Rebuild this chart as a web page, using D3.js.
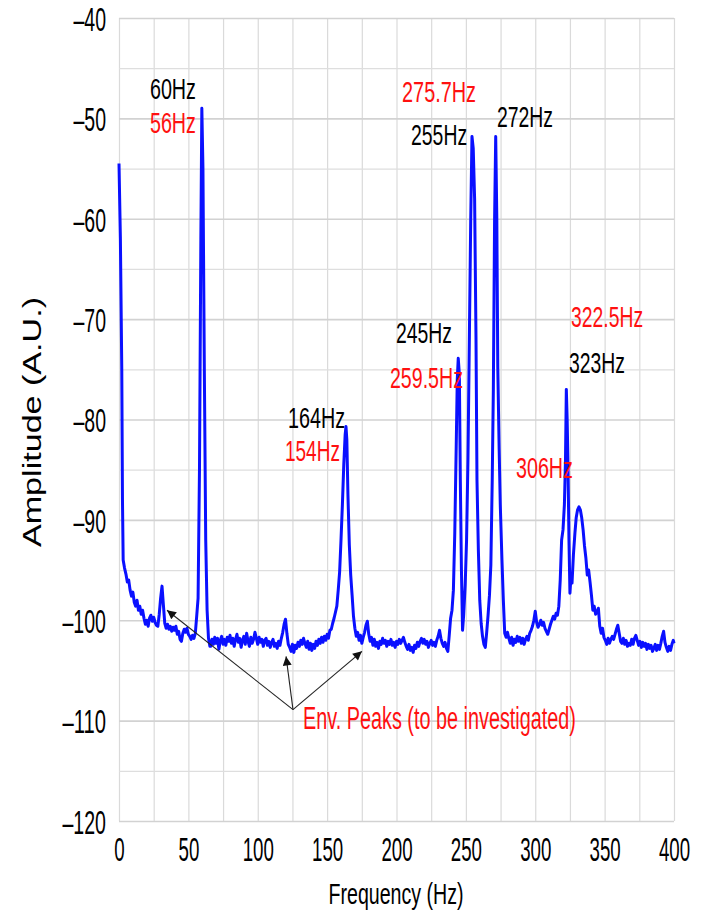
<!DOCTYPE html>
<html>
<head>
<meta charset="utf-8">
<script src="https://cdn.jsdelivr.net/npm/d3@7"></script>
<style>
  html, body { margin: 0; padding: 0; background: #fff; }
  svg { display: block; }
  text { font-family: "Liberation Sans", Arial, Helvetica, sans-serif; }
</style>
</head>
<body>
<div id="chart"></div>
<script>
// ---------------- data ----------------
const xTicks = [0, 50, 100, 150, 200, 250, 300, 350, 400];
const yTicks = [-40, -50, -60, -70, -80, -90, -100, -110, -120];
const xGrid = d3.range(0, 401, 25);
const yGrid = d3.range(-120, -39, 5);

// [frequency Hz, amplitude]
const spectrum = [
  [0,-54.5],[1,-62],[2,-75],[2.5,-88],[3,-94.0],[4,-94.8],[5,-95.4],[6,-96.2],[7,-96.0],[8,-97.0],
  [9,-97.6],[10,-97.2],[11,-98.2],[12,-98.6],[13,-98.0],[14,-99.0],[15,-98.6],[16,-99.4],[17,-99.0],[18,-99.8],
  [19,-100.4],[20,-100.0],[21,-100.6],[22,-99.8],[23,-99.5],[24,-100.1],[25,-99.7],[26,-100.2],[27,-100.5],[28,-100.6],
  [29,-99.4],[30,-97.8],[31,-96.6],[32,-98.5],[33,-100.3],[34,-100.8],[35,-100.4],[36,-100.9],[37,-100.6],[38,-101.1],
  [39,-100.7],[40,-101.0],[41,-100.6],[42,-101.4],[43,-101.1],[44,-101.9],[45,-102.1],[46,-101.3],[47,-100.9],[48,-101.2],
  [49,-100.8],[50,-101.4],[51,-101.6],[52,-101.9],[53,-101.5],[54,-101.8],[55,-101.3],[56,-99.6],[57,-97.8],[58,-85],
  [59,-62],[59.7,-49.0],[60.5,-55],[61.5,-75],[62.5,-92],[63.5,-99],[64.5,-101.8],[65.5,-102.6],
  [66,-102.6],[67,-101.9],[68,-102.4],[69,-101.7],[70,-102.3],[71,-101.8],[72,-102.9],[73,-102.0],[74,-101.6],[75,-102.4],
  [76,-101.9],[77,-102.5],[78,-101.7],[79,-102.1],[80,-101.5],[81,-102.3],[82,-101.8],[83,-102.6],[84,-101.9],[85,-101.4],
  [86,-102.2],[87,-101.8],[88,-102.7],[89,-102.0],[90,-101.6],[91,-102.4],[92,-101.3],[93,-102.1],[94,-102.6],[95,-101.7],
  [96,-102.3],[97,-101.9],[98,-101.2],[99,-101.8],[100,-102.4],[101,-101.7],[102,-102.2],[103,-101.9],[104,-102.6],[105,-102.0],
  [106,-101.8],[107,-102.5],[108,-102.1],[109,-102.7],[110,-102.2],[111,-101.9],[112,-102.6],[113,-102.3],[114,-102.8],[115,-102.1],
  [116,-102.5],[117,-101.8],[118,-101.2],[119,-100.4],[120,-99.9],[121,-101.3],[122,-102.4],[123,-102.7],[124,-103.1],[125,-102.4],
  [126,-103.2],[127,-102.5],[128,-102.8],[129,-102.2],[130,-102.6],[131,-102.0],[132,-102.4],[133,-101.8],[134,-102.3],[135,-102.7],
  [136,-102.1],[137,-102.9],[138,-102.3],[139,-103.0],[140,-102.4],[141,-102.8],[142,-102.1],[143,-102.5],[144,-101.9],[145,-102.3],
  [146,-101.7],[147,-102.2],[148,-101.6],[149,-102.0],[150,-101.4],[151,-101.8],[152,-101.0],[153,-100.9],[154,-100.3],[155,-99.8],
  [156,-99.2],[157,-98.6],[158,-97.0],[159,-95.2],[160,-92.0],[161,-88.5],[162,-84.5],[163,-81.5],[163.6,-80.7],[164.2,-82.0],
  [165,-87.5],[166,-92.5],[167,-95.5],[168,-97.5],[169,-99.6],[170,-100.8],[171,-101.6],[172,-101.2],[173,-102.0],[174,-101.5],
  [175,-102.3],[176,-101.7],[177,-101.2],[178,-100.5],[179,-100.1],[180,-101.4],[181,-102.1],[182,-101.7],[183,-102.5],[184,-101.9],
  [185,-102.6],[186,-102.2],[187,-102.8],[188,-102.1],[189,-102.4],[190,-101.8],[191,-102.3],[192,-102.0],[193,-102.6],[194,-102.1],
  [195,-102.4],[196,-101.9],[197,-102.5],[198,-102.2],[199,-102.7],[200,-102.1],[201,-102.4],[202,-101.9],[203,-102.3],[204,-102.0],
  [205,-101.7],[206,-102.2],[207,-102.6],[208,-102.9],[209,-102.4],[210,-103.0],[211,-102.7],[212,-103.2],[213,-102.5],[214,-102.8],
  [215,-102.2],[216,-102.6],[217,-102.1],[218,-101.8],[219,-102.3],[220,-101.9],[221,-102.4],[222,-102.1],[223,-102.7],[224,-102.3],
  [225,-102.0],[226,-102.5],[227,-102.2],[228,-102.6],[229,-102.0],[230,-101.6],[231,-101.0],[232,-101.8],[233,-102.3],[234,-102.6],
  [235,-102.2],[236,-102.8],[237,-103.1],[238,-101.5],[239,-99.8],[240,-99.0],[241,-97.0],[242,-91.3],[243,-83],[243.8,-76],
  [244.5,-73.9],[245.3,-75.5],[246,-86],[246.8,-95],[247.6,-101.0],[248.4,-99.5],[249.5,-96.5],[250.5,-92],[251.5,-84],[252.5,-72],
  [253.5,-60],[254.4,-51.8],[255.3,-53],[256.3,-58],[257.3,-72],[258,-86],[259,-93],[260,-98],[261,-100.3],[262,-101.6],
  [263,-102.4],[264,-102.7],[265,-101.2],[266,-99.5],[267,-97.5],[268,-94.5],[269,-86],[269.8,-77],[270.7,-60],[271.5,-51.8],
  [272.3,-60],[273,-74.8],[274,-83],[274.8,-88.5],[276,-94],[277,-98],[278,-101.3],[279,-101.7],[280,-101.2],[281,-101.8],
  [282,-102.3],[283,-101.7],[284,-102.5],[285,-101.9],[286,-102.2],[287,-101.6],[288,-102.1],[289,-101.7],[290,-102.3],[291,-101.8],
  [292,-102.4],[293,-101.9],[294,-101.6],[295,-102.0],[296,-101.3],[297,-101.0],[298,-100.6],[299,-100.0],[300,-99.1],[301,-100.2],
  [302,-100.7],[303,-100.4],[304,-100.0],[305,-100.5],[306,-100.2],[307,-100.8],[308,-101.1],[309,-101.4],[310,-100.9],[311,-100.4],
  [312,-100.0],[313,-99.6],[314,-99.9],[315,-99.3],[316,-99.5],[317,-98.6],[318,-96.0],[319,-92.0],[320,-91.0],[321,-88.5],
  [321.8,-84],[322.4,-77.0],[323,-80],[323.6,-84.5],[324.3,-92],[325,-97.3],[325.8,-95.5],[326.5,-96.3],[327.5,-93.5],[328.6,-91.3],
  [329.5,-89.8],[330.5,-89.0],[331.5,-88.7],[332.5,-89.0],[333.5,-89.8],[334.5,-91.0],[335.5,-92.6],[336.5,-93.8],[337.5,-95.5],[338.5,-95.0],
  [339.5,-96.2],[340.5,-97.5],[341.5,-99.0],[342.5,-98.6],[343.5,-99.4],[344.5,-99.2],[345.5,-98.8],[346.5,-100.6],[347.5,-101.3],[348.5,-100.8],
  [349.5,-101.7],[350.5,-102.0],[351.5,-102.4],[352.5,-101.8],[353.5,-102.3],[354.5,-101.9],[355.5,-101.6],[356.5,-101.9],[357.5,-101.4],[358.5,-100.9],
  [359.5,-100.5],[360.5,-101.3],[361.5,-102.1],[362.5,-102.3],[363.5,-101.8],[364.5,-102.4],[365.5,-102.0],[366.5,-102.6],[367.5,-102.3],[368.5,-102.5],
  [369.5,-101.9],[370.5,-102.4],[371.5,-101.8],[372.5,-101.5],[373.5,-102.0],[374.5,-102.5],[375.5,-102.1],[376.5,-102.7],[377.5,-102.2],[378.5,-102.6],
  [379.5,-102.3],[380.5,-102.9],[381.5,-102.4],[382.5,-102.8],[383.5,-102.5],[384.5,-103.1],[385.5,-102.8],[386.5,-102.4],[387.5,-103.0],[388.5,-102.5],
  [389.5,-102.9],[390.5,-102.3],[391.5,-101.6],[392.5,-101.1],[393.5,-102.2],[394.5,-102.7],[395.5,-103.1],[396.5,-102.6],[397.5,-103.0],[398.5,-102.4],
  [399.5,-102.0],[400,-102.3]
];

// peak annotations: text, colour, anchor freq, anchor amplitude, text width (px)
const peakLabels = [
  ["60Hz",    "black", 22.3,  -48.1, 46],
  ["56Hz",    "red",   22.3,  -51.5, 46],
  ["275.7Hz", "red",   204.0, -48.4, 74],
  ["255Hz",   "black", 210.5, -52.7, 56],
  ["272Hz",   "black", 272.4, -50.9, 56],
  ["245Hz",   "black", 199.6, -72.4, 56],
  ["259.5Hz", "red",   195.3, -76.9, 73],
  ["322.5Hz", "red",   325.8, -70.8, 72],
  ["323Hz",   "black", 324.3, -75.4, 56],
  ["306Hz",   "red",   286.1, -85.8, 57],
  ["164Hz",   "black", 121.8, -80.8, 57],
  ["154Hz",   "red",   119.6, -84.1, 55]
];
const envNote = ["Env. Peaks (to be investigated)", 132.6, -110.8, 273];
const envOrigin = [125.4, -108.9];
const envTargets = [[34.6, -99.0], [120.4, -103.6], [175.1, -103.1]];

// ---------------- layout ----------------
const W = 702, H = 916;
const plot = { left: 119, right: 674, top: 18, bottom: 821 };
const font = '"Liberation Sans", Arial, Helvetica, sans-serif';

const svg = d3.select("#chart").append("svg")
  .attr("width", W).attr("height", H);

const x = d3.scaleLinear().domain([0, 400]).range([plot.left, plot.right]);
const y = d3.scaleLinear().domain([-120, -40]).range([plot.bottom, plot.top]);

// grid
const gridX = svg.append("g")
  .attr("transform", `translate(0,${plot.bottom})`)
  .call(d3.axisBottom(x).tickValues(xGrid).tickSize(-(plot.bottom - plot.top)).tickFormat(""));
gridX.select(".domain").remove();
gridX.selectAll("line").attr("stroke", "#dadada").attr("stroke-width", 1.2);

const gridY = svg.append("g")
  .attr("transform", `translate(${plot.left},0)`)
  .call(d3.axisLeft(y).tickValues(yGrid).tickSize(-(plot.right - plot.left)).tickFormat(""));
gridY.select(".domain").remove();
gridY.selectAll("line").attr("stroke", d => d % 10 === 0 ? "#d2d2d2" : "#dedede")
  .attr("stroke-width", d => d % 10 === 0 ? 1.6 : 1.2);

// y axis labels
const yAx = svg.append("g")
  .attr("transform", `translate(${plot.left},0)`)
  .call(d3.axisLeft(y).tickValues(yTicks).tickSize(0).tickPadding(13)
    .tickFormat(d => "\u2013" + Math.abs(d)));
yAx.select(".domain").remove();
yAx.selectAll("text")
  .attr("font-family", font).attr("font-size", 34).attr("fill", "#000")
  .attr("dy", "0.36em")
  .attr("textLength", function() { return (this.textContent.length - 1) * 11 + 10.5; })
  .attr("lengthAdjust", "spacingAndGlyphs");

// x axis labels
const xAx = svg.append("g")
  .attr("transform", `translate(0,${plot.bottom})`)
  .call(d3.axisBottom(x).tickValues(xTicks).tickSize(0).tickPadding(17)
    .tickFormat(d => String(d)));
xAx.select(".domain").remove();
xAx.selectAll("text")
  .attr("font-family", font).attr("font-size", 33).attr("fill", "#000")
  .attr("dy", "0.71em")
  .attr("textLength", function() { return this.textContent.length * 10.4; })
  .attr("lengthAdjust", "spacingAndGlyphs");

// axis titles
svg.append("text")
  .attr("x", (plot.left + plot.right) / 2 - 0.5).attr("y", 904)
  .attr("text-anchor", "middle").attr("font-size", 29).attr("fill", "#000")
  .attr("textLength", 135).attr("lengthAdjust", "spacingAndGlyphs")
  .text("Frequency (Hz)");

svg.append("text")
  .attr("transform", "translate(41,422) rotate(-90)")
  .attr("text-anchor", "middle").attr("font-size", 25).attr("fill", "#000")
  .attr("textLength", 250).attr("lengthAdjust", "spacingAndGlyphs")
  .text("Amplitude (A.U.)");

// spectrum line
const line = d3.line().x(d => x(d[0])).y(d => y(d[1]));
svg.append("path")
  .datum(spectrum)
  .attr("d", line)
  .attr("fill", "none")
  .attr("stroke", "#0a10ff")
  .attr("stroke-width", 3)
  .attr("stroke-linejoin", "round");

// peak labels
svg.append("g").selectAll("text")
  .data(peakLabels).join("text")
  .attr("x", d => x(d[2])).attr("y", d => y(d[3]))
  .attr("font-size", 29)
  .attr("fill", d => d[1] === "red" ? "#ff1010" : "#000")
  .attr("textLength", d => d[4]).attr("lengthAdjust", "spacingAndGlyphs")
  .text(d => d[0]);

// arrows
const defs = svg.append("defs");
defs.append("marker")
  .attr("id", "arrowhead")
  .attr("viewBox", "0 0 10 10")
  .attr("refX", 10).attr("refY", 5)
  .attr("markerUnits", "userSpaceOnUse")
  .attr("markerWidth", 12).attr("markerHeight", 9)
  .attr("orient", "auto")
  .append("path").attr("d", "M0,0 L10,5 L0,10 Z").attr("fill", "#111");

svg.append("g").selectAll("line")
  .data(envTargets).join("line")
  .attr("x1", x(envOrigin[0])).attr("y1", y(envOrigin[1]))
  .attr("x2", d => x(d[0])).attr("y2", d => y(d[1]))
  .attr("stroke", "#222").attr("stroke-width", 1.1)
  .attr("marker-end", "url(#arrowhead)");

svg.append("text")
  .attr("x", x(envNote[1])).attr("y", y(envNote[2]))
  .attr("font-size", 31).attr("fill", "#ff1010")
  .attr("textLength", envNote[3]).attr("lengthAdjust", "spacingAndGlyphs")
  .text(envNote[0]);
</script>
</body>
</html>
